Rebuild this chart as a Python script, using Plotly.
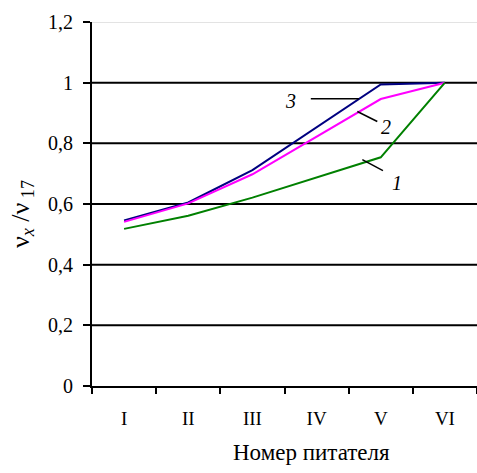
import plotly.graph_objects as go

categories = ["I", "II", "III", "IV", "V", "VI"]
series1 = [0.518, 0.561, 0.621, 0.688, 0.754, 1.0]
series2 = [0.541, 0.602, 0.698, 0.822, 0.946, 1.0]
series3 = [0.546, 0.605, 0.712, 0.853, 0.994, 1.0]
y_ticks = [0, 0.2, 0.4, 0.6, 0.8, 1.0, 1.2]
y_tick_labels = ["0", "0,2", "0,4", "0,6", "0,8", "1", "1,2"]
grid_values = [0.2, 0.4, 0.6, 0.8, 1.0]

# labels on curves: (text, text x, text y, leader x0, y0, x1, y1) in data coords
curve_labels = [
    ("3", 2.60, 0.938, 2.91, 0.947, 3.66, 0.947),
    ("2", 4.08, 0.854, 3.635, 0.905, 3.946, 0.872),
    ("1", 4.256, 0.669, 3.713, 0.746, 4.034, 0.710),
]

FONT = "Liberation Serif"

fig = go.Figure()
fig.add_trace(go.Scatter(x=categories, y=series3, mode="lines",
                         line=dict(color="#000080", width=2)))
fig.add_trace(go.Scatter(x=categories, y=series2, mode="lines",
                         line=dict(color="#FF00FF", width=2)))
fig.add_trace(go.Scatter(x=categories, y=series1, mode="lines",
                         line=dict(color="#008000", width=2)))

shapes = []
for g in grid_values:
    shapes.append(dict(type="line", xref="paper", yref="y", x0=0, x1=1, y0=g, y1=g,
                       line=dict(color="black", width=2), layer="below"))
shapes.append(dict(type="line", xref="paper", yref="y", x0=0, x1=1, y0=1.2, y1=1.2,
                   line=dict(color="#C8C8C8", width=1), layer="below"))
annotations = []
for txt, tx, ty, x0, y0, x1, y1 in curve_labels:
    shapes.append(dict(type="line", xref="x", yref="y", x0=x0, y0=y0, x1=x1, y1=y1,
                       line=dict(color="black", width=1.5)))
    annotations.append(dict(x=tx, y=ty, xref="x", yref="y", text="<i>%s</i>" % txt,
                            xanchor="center", yanchor="middle",
                            showarrow=False, font=dict(family=FONT, size=20, color="black")))

annotations.append(dict(x=311, y=452, xref="paper", yref="paper", text="Номер питателя",
                        xanchor="center", yanchor="middle",
                        showarrow=False, font=dict(family=FONT, size=23, color="black")))
annotations.append(dict(x=22, y=214, xref="paper", yref="paper",
                        text="ν<sub><i>x</i></sub> /ν<sub> 17</sub>", textangle=-90,
                        xanchor="center", yanchor="middle",
                        showarrow=False, font=dict(family=FONT, size=26, color="black")))

W, H = 477, 473
L, R, T, B = 92, 0, 22, 87
pw, ph = W - L - R, H - T - B
# convert pixel positions of axis titles to paper coords
for a in annotations[-2:]:
    a["x"] = (a["x"] - L) / pw
    a["y"] = (H - B - a["y"]) / ph

fig.update_layout(
    width=W, height=H,
    margin=dict(l=L, r=R, t=T, b=B),
    paper_bgcolor="white", plot_bgcolor="white",
    showlegend=False,
    shapes=shapes, annotations=annotations,
    font=dict(family=FONT, color="black"),
    xaxis=dict(type="category", range=[-0.5, 5.5], showgrid=False, zeroline=False,
               showline=True, linecolor="black", linewidth=2,
               ticks="outside", tickson="boundaries", ticklen=6, tickwidth=2, tickcolor="black",
               tickfont=dict(family=FONT, size=19), ticklabelstandoff=14),
    yaxis=dict(range=[0, 1.2], tickvals=y_ticks, ticktext=y_tick_labels,
               showgrid=False, zeroline=False,
               showline=True, linecolor="black", linewidth=2,
               ticks="outside", ticklen=7, tickwidth=2, tickcolor="black",
               tickfont=dict(family=FONT, size=20), ticklabelstandoff=6),
)
fig.write_html("out.html", config={"displayModeBar": False},
               post_script="document.body.style.margin='0px';")
